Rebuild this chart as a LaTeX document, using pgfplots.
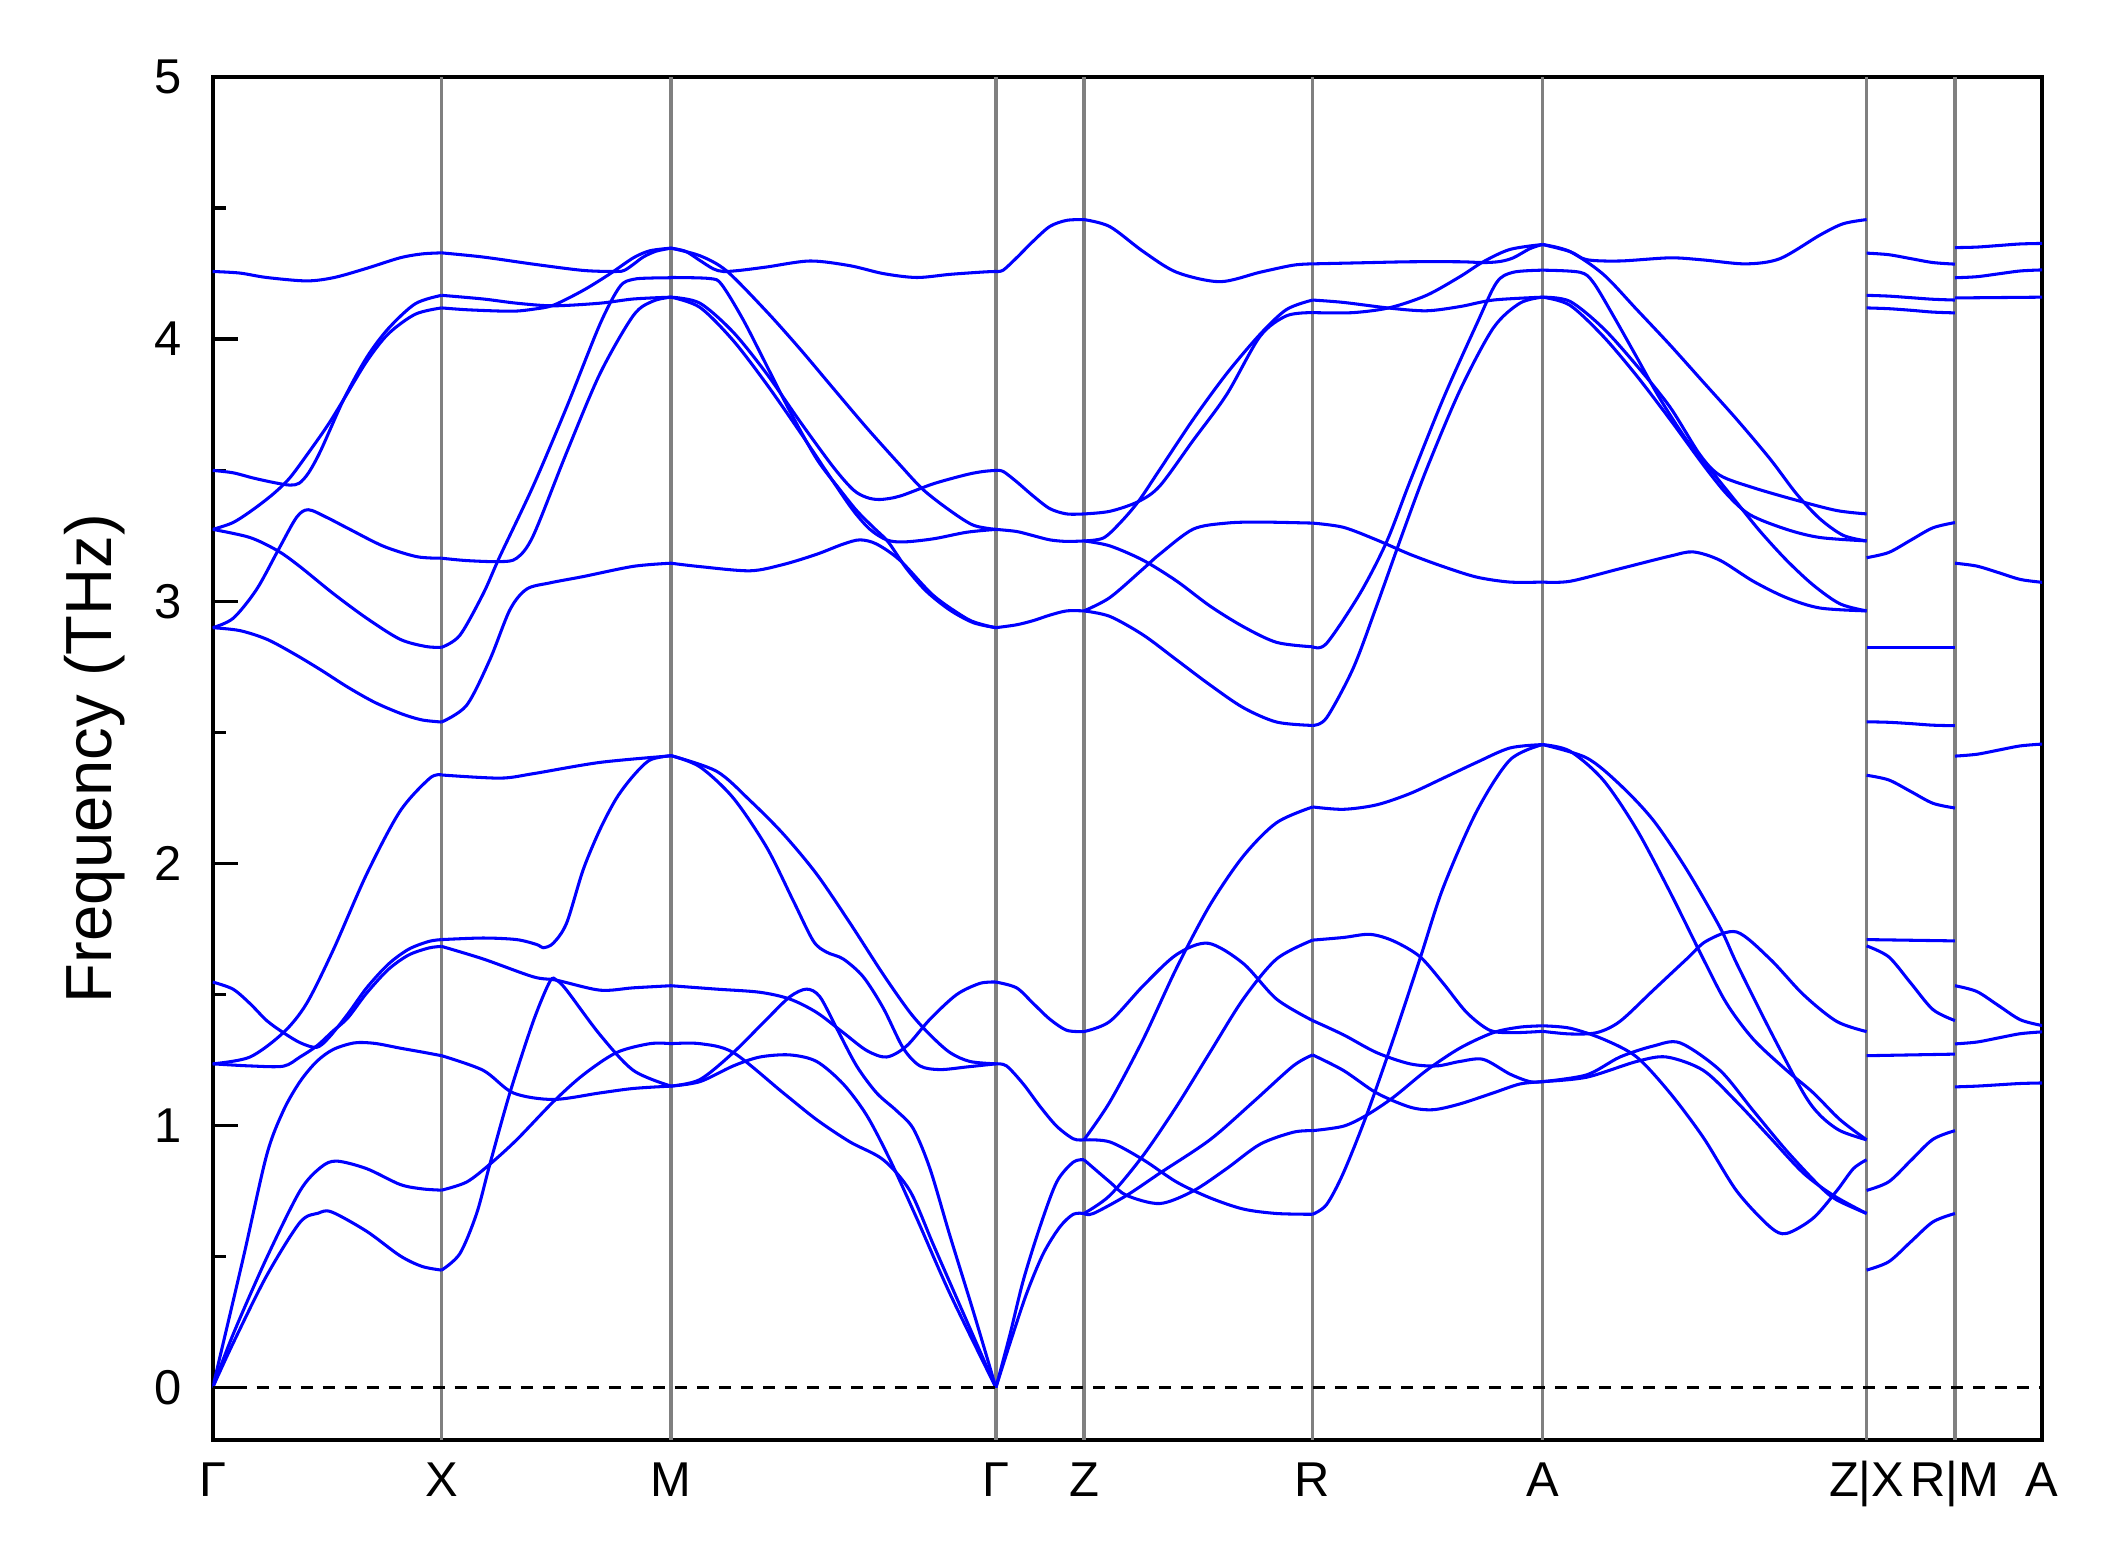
\documentclass[border=0pt]{standalone}
\usepackage{fontspec}
\setmainfont{Liberation Sans}
\usepackage{pgfplots}
\pgfplotsset{compat=1.18}
\pgfplotsset{band/.style={blue, line width=0.75pt, smooth, tension=0.5, no marks},
  sym/.style={gray, line width=0.8pt, no marks}}
\begin{document}
\begin{tikzpicture}
\begin{axis}[
  name=ax,
  width=449pt, height=334.5pt, scale only axis,
  xmin=0, xmax=1354.4, ymin=-0.2, ymax=5,
  xtick={0,169.5,339.2,579.8,645,814.3,984.5,1224.4,1289.8,1354.4},
  xticklabels={Γ,X,M,Γ,Z,R,A,Z|X,R|M,A},
  ytick={0,1,2,3,4,5},
  yticklabels={0,1,2,3,4,5},
  minor ytick={0.5,1.5,2.5,3.5,4.5},
  ytick pos=left,
  tick align=inside,
  major tick length=6.1pt,
  minor tick length=3.2pt,
  tick style={line width=0.8pt, black},
  xtick style={draw=none},
  axis line style={line width=1pt},
  tick label style={font=\fontsize{12}{14}\selectfont},
  xticklabel style={anchor=base, inner sep=0pt, yshift=-13.8pt},
  yticklabel style={anchor=east, inner sep=0pt, xshift=-7.3pt},
]
% high-symmetry lines
\addplot[sym] coordinates {(169.5,-0.2) (169.5,5)};
\addplot[sym] coordinates {(339.2,-0.2) (339.2,5)};
\addplot[sym] coordinates {(579.8,-0.2) (579.8,5)};
\addplot[sym] coordinates {(645,-0.2) (645,5)};
\addplot[sym] coordinates {(814.3,-0.2) (814.3,5)};
\addplot[sym] coordinates {(984.5,-0.2) (984.5,5)};
\addplot[sym] coordinates {(1224.4,-0.2) (1224.4,5)};
\addplot[sym] coordinates {(1289.8,-0.2) (1289.8,5)};
% ===== Gamma - X =====
\addplot[band] coordinates {(0,4.258) (20,4.252) (40,4.235) (69.5,4.222) (90,4.235) (114,4.27) (138.6,4.31) (155,4.325) (169.5,4.329)};
\addplot[band] coordinates {(0,3.499) (15,3.49) (30,3.47) (45,3.453) (57,3.443) (64,3.45) (71,3.49) (80,3.575) (97,3.77) (114,3.93) (130,4.04) (150,4.135) (169.5,4.167)};
\addplot[band] coordinates {(0,3.274) (15,3.30) (30,3.35) (45,3.41) (57,3.47) (70,3.56) (85,3.67) (97,3.77) (114,3.915) (130,4.02) (150,4.095) (169.5,4.119)};
\addplot[band] coordinates {(0,3.274) (27.6,3.243) (48.6,3.191) (64.6,3.132) (89.3,3.029) (114,2.935) (138.6,2.855) (158,2.827) (169.5,2.824)};
\addplot[band] coordinates {(0,2.899) (15.2,2.935) (32.5,3.045) (48.6,3.196) (62.1,3.32) (70.8,3.349) (84.3,3.32) (101.6,3.274) (126.3,3.21) (151,3.17) (169.5,3.164)};
\addplot[band] coordinates {(0,2.899) (20,2.888) (40,2.855) (60,2.800) (80,2.738) (100,2.672) (120,2.614) (140,2.570) (155,2.547) (169.5,2.539)};
\addplot[band] coordinates {(0,1.235) (27.6,1.261) (52.3,1.354) (69.5,1.465) (89.3,1.67) (114,1.959) (138.6,2.198) (160.8,2.325) (169.5,2.337)};
\addplot[band] coordinates {(0,1.547) (15,1.52) (27.6,1.465) (40,1.40) (52,1.355) (65,1.315) (77,1.298) (86,1.335) (100,1.425) (114,1.525) (130,1.615) (145,1.672) (160,1.702) (169.5,1.709)};
\addplot[band] coordinates {(0,1.235) (27.6,1.227) (52.3,1.226) (64.6,1.261) (77,1.303) (89,1.36) (100,1.41) (114,1.505) (130,1.595) (145,1.65) (160,1.677) (169.5,1.683)};
\addplot[band] coordinates {(0,0) (22.6,0.494) (39.9,0.886) (52.3,1.056) (64.6,1.167) (77,1.244) (89.3,1.29) (105,1.315) (120,1.313) (138.6,1.295) (155,1.28) (169.5,1.266)};
\addplot[band] coordinates {(0,0) (15.2,0.204) (39.9,0.494) (64.6,0.75) (80,0.84) (91.7,0.864) (114,0.835) (138.6,0.775) (155,0.758) (169.5,0.753)};
\addplot[band] coordinates {(0,0) (15.2,0.17) (39.9,0.426) (64.6,0.63) (78,0.665) (88,0.67) (114,0.596) (138.6,0.503) (155,0.462) (169.5,0.448)};
% ===== X - M =====
\addplot[band] coordinates {(169.5,4.329) (200.3,4.313) (237.3,4.286) (274.3,4.262) (299,4.258) (305,4.263) (311.4,4.285) (318.7,4.313) (328,4.335) (339.2,4.347)};
\addplot[band] coordinates {(169.5,4.167) (200.3,4.153) (225,4.137) (252.1,4.127) (286.7,4.137) (311.4,4.153) (339.2,4.16)};
\addplot[band] coordinates {(169.5,4.119) (188,4.112) (212.6,4.107) (225,4.107) (237.3,4.114) (252.1,4.129) (274.3,4.186) (294.1,4.249) (311.4,4.31) (323.7,4.337) (339.2,4.347)};
\addplot[band] coordinates {(169.5,2.824) (183,2.87) (200.3,3.029) (212.6,3.171) (237.3,3.44) (262,3.74) (286.7,4.057) (301.4,4.20) (311.4,4.228) (325,4.233) (339.2,4.234)};
\addplot[band] coordinates {(169.5,3.164) (188,3.155) (212.6,3.151) (225,3.164) (237.3,3.25) (262,3.567) (286.7,3.868) (311.4,4.09) (326,4.145) (339.2,4.16)};
\addplot[band] coordinates {(169.5,2.539) (188,2.603) (205.2,2.777) (220,2.967) (232.4,3.046) (249.7,3.07) (274.3,3.094) (311.4,3.133) (339.2,3.145)};
\addplot[band] coordinates {(169.5,2.337) (212.6,2.325) (237.3,2.342) (286.7,2.385) (339.2,2.41)};
\addplot[band] coordinates {(169.5,1.709) (200.3,1.715) (225,1.709) (240,1.69) (244.7,1.678) (252.1,1.695) (262,1.772) (274.3,1.976) (286.7,2.129) (299,2.249) (311.4,2.334) (323.7,2.394) (339.2,2.411)};
\addplot[band] coordinates {(169.5,1.683) (200.3,1.635) (237.3,1.567) (254.6,1.554) (286.7,1.516) (311.4,1.525) (339.2,1.533)};
\addplot[band] coordinates {(169.5,1.266) (200.3,1.21) (222.5,1.124) (252.1,1.099) (286.7,1.124) (311.4,1.141) (339.2,1.15)};
\addplot[band] coordinates {(169.5,0.753) (188,0.784) (205.2,0.852) (225,0.945) (252.1,1.09) (274.3,1.193) (299,1.278) (323.7,1.312) (339.2,1.312)};
\addplot[band] coordinates {(169.5,0.448) (183,0.511) (195.4,0.664) (205.2,0.852) (220,1.124) (237.3,1.397) (249.7,1.55) (254.6,1.554) (262,1.516) (286.7,1.346) (311.4,1.21) (339.2,1.15)};
% ===== M - Gamma =====
\addplot[band] coordinates {(339.2,4.347) (350,4.335) (360.7,4.30) (370.6,4.268) (378,4.258) (390,4.262) (410,4.275) (442.1,4.298) (471.8,4.28) (496.4,4.25) (521.1,4.235) (545.8,4.247) (570.5,4.256) (579.8,4.258)};
\addplot[band] coordinates {(339.2,4.347) (360.7,4.318) (380.5,4.26) (410.1,4.105) (434.7,3.963) (459.4,3.812) (484.1,3.662) (508.8,3.52) (526.1,3.425) (545.8,3.346) (563.1,3.29) (579.8,3.274)};
\addplot[band] coordinates {(339.2,4.235) (368.1,4.231) (376.8,4.208) (392.8,4.073) (410.1,3.899) (427.3,3.725) (447.1,3.543) (464.4,3.425) (476.7,3.346) (489,3.282) (500.1,3.226) (513.7,3.124) (528.5,3.037) (545.8,2.966) (563.1,2.918) (579.8,2.899)};
\addplot[band] coordinates {(339.2,4.16) (360.7,4.137) (385.4,4.026) (410.1,3.868) (434.7,3.686) (459.4,3.512) (474.2,3.425) (484.1,3.396) (494,3.388) (508.8,3.401) (533.5,3.448) (558.1,3.483) (570.5,3.495) (579.8,3.499)};
\addplot[band] coordinates {(339.2,4.16) (360.7,4.121) (385.4,3.994) (410.1,3.828) (434.7,3.646) (459.4,3.456) (474.2,3.346) (486.6,3.274) (498.9,3.234) (511.2,3.226) (533.5,3.238) (558.1,3.263) (579.8,3.274)};
\addplot[band] coordinates {(339.2,3.145) (360.7,3.132) (397.7,3.116) (422.4,3.14) (447.1,3.179) (466.8,3.218) (479.2,3.234) (491.5,3.218) (508.8,3.156) (533.5,3.022) (558.1,2.934) (570.5,2.91) (579.8,2.899)};
\addplot[band] coordinates {(339.2,2.411) (373.1,2.351) (397.7,2.24) (422.4,2.112) (447.1,1.959) (471.8,1.772) (496.4,1.576) (516.2,1.431) (531,1.346) (545.8,1.278) (560.6,1.244) (579.8,1.235)};
\addplot[band] coordinates {(339.2,2.411) (360.7,2.368) (385.4,2.249) (410.1,2.061) (429.8,1.857) (444.6,1.704) (454.5,1.661) (466.8,1.635) (481.6,1.567) (496.4,1.448) (511.2,1.295) (523.6,1.227) (538.4,1.213) (558.1,1.223) (579.8,1.235)};
\addplot[band] coordinates {(339.2,1.533) (373.1,1.52) (405.1,1.508) (427.3,1.482) (447.1,1.431) (466.8,1.354) (484.1,1.286) (498.9,1.261) (513.7,1.303) (531,1.405) (550.7,1.499) (568,1.542) (579.8,1.547)};
\addplot[band] coordinates {(339.2,1.312) (360.7,1.312) (385.4,1.278) (422.4,1.124) (447.1,1.022) (471.8,0.937) (496.4,0.869) (516.2,0.75) (533.5,0.545) (556,0.28) (579.8,0)};
\addplot[band] coordinates {(339.2,1.15) (360.7,1.175) (385.4,1.278) (410.1,1.405) (427.3,1.491) (439.7,1.52) (449.5,1.491) (461.9,1.371) (476.7,1.227) (491.5,1.124) (506.3,1.056) (518.6,0.988) (531,0.835) (545.8,0.579) (563.1,0.29) (579.8,0)};
\addplot[band] coordinates {(339.2,1.15) (360.7,1.167) (385.4,1.227) (405.1,1.261) (427.3,1.269) (447.1,1.244) (466.8,1.158) (484.1,1.039) (501.4,0.869) (521.1,0.647) (545.8,0.358) (579.8,0)};
% ===== Gamma - Z =====
\addplot[band] coordinates {(579.8,4.258) (585.2,4.263) (595.1,4.31) (607.5,4.374) (619.8,4.43) (632.2,4.453) (645,4.456)};
\addplot[band] coordinates {(579.8,3.499) (585.2,3.495) (595.1,3.456) (607.5,3.401) (619.8,3.353) (632.2,3.333) (645,3.333)};
\addplot[band] coordinates {(579.8,3.274) (595.1,3.266) (607.5,3.25) (619.8,3.234) (632.2,3.228) (645,3.23)};
\addplot[band] coordinates {(579.8,2.899) (595.1,2.91) (607.5,2.926) (619.8,2.947) (632.2,2.963) (645,2.963)};
\addplot[band] coordinates {(579.8,1.547) (595.1,1.525) (607.5,1.465) (619.8,1.405) (632.2,1.363) (645,1.358)};
\addplot[band] coordinates {(579.8,1.235) (587.7,1.227) (600.1,1.158) (612.4,1.073) (624.8,0.997) (637.1,0.949) (645,0.945)};
\addplot[band] coordinates {(579.8,0) (590.3,0.204) (600.1,0.409) (612.4,0.613) (624.8,0.784) (637.1,0.86) (645,0.869)};
\addplot[band] coordinates {(579.8,0) (590.3,0.17) (602.5,0.358) (614.9,0.511) (627.2,0.613) (637.1,0.661) (645,0.664)};
% ===== Z - R =====
\addplot[band] coordinates {(645,4.456) (664.2,4.429) (688.9,4.334) (713.6,4.255) (745.6,4.219) (775.3,4.255) (799.9,4.282) (814.3,4.287)};
\addplot[band] coordinates {(645,3.23) (659.3,3.241) (671.6,3.298) (685.2,3.38) (701.2,3.503) (725.9,3.694) (750.6,3.868) (775.3,4.018) (795,4.113) (814.3,4.149)};
\addplot[band] coordinates {(645,3.333) (664.2,3.343) (685.2,3.38) (701.2,3.44) (725.9,3.614) (750.6,3.788) (775.3,4.01) (795,4.089) (814.3,4.101)};
\addplot[band] coordinates {(645,3.23) (664.2,3.211) (688.9,3.156) (713.6,3.077) (738.2,2.982) (762.9,2.903) (787.6,2.843) (814.3,2.826)};
\addplot[band] coordinates {(645,2.963) (664.2,3.014) (688.9,3.124) (701.2,3.18) (725.9,3.275) (750.6,3.298) (775.3,3.302) (814.3,3.298)};
\addplot[band] coordinates {(645,2.963) (664.2,2.942) (688.9,2.871) (713.6,2.776) (738.2,2.681) (762.9,2.594) (787.6,2.539) (814.3,2.526)};
\addplot[band] coordinates {(645,1.358) (664.2,1.397) (688.9,1.533) (713.6,1.652) (737,1.695) (762.9,1.618) (787.6,1.482) (814.3,1.4)};
\addplot[band] coordinates {(645,0.945) (664.2,1.09) (688.9,1.329) (713.6,1.601) (738.2,1.84) (762.9,2.027) (787.6,2.155) (814.3,2.215)};
\addplot[band] coordinates {(645,0.945) (664.2,0.937) (688.9,0.869) (713.6,0.784) (738.2,0.724) (762.9,0.681) (787.6,0.664) (814.3,0.661)};
\addplot[band] coordinates {(645,0.869) (664.2,0.784) (676.6,0.733) (701.2,0.702) (725.9,0.75) (750.6,0.835) (775.3,0.928) (799.9,0.974) (814.3,0.98)};
\addplot[band] coordinates {(645,0.664) (651.9,0.664) (676.6,0.733) (701.2,0.818) (738.2,0.945) (770.4,1.09) (799.9,1.227) (814.3,1.269)};
\addplot[band] coordinates {(645,0.664) (664.2,0.733) (688.9,0.886) (713.6,1.073) (738.2,1.278) (762.9,1.482) (787.6,1.635) (814.3,1.707)};
% ===== R - A =====
\addplot[band] coordinates {(814.3,4.287) (849.3,4.291) (886.3,4.295) (923.3,4.295) (940.6,4.292) (952.9,4.296) (962.8,4.31) (975.1,4.345) (984.5,4.361)};
\addplot[band] coordinates {(814.3,4.149) (837,4.14) (871.5,4.118) (898.6,4.108) (923.3,4.124) (948,4.149) (984.5,4.16)};
\addplot[band] coordinates {(814.3,4.101) (844.3,4.101) (871.5,4.12) (898.6,4.167) (923.3,4.238) (940.6,4.295) (960.3,4.342) (984.5,4.361)};
\addplot[band] coordinates {(814.3,3.298) (837,3.282) (861.6,3.234) (886.3,3.179) (911,3.132) (935.7,3.092) (960.3,3.073) (984.5,3.073)};
\addplot[band] coordinates {(814.3,2.826) (824.6,2.839) (849.3,3.029) (869,3.226) (886.3,3.456) (911,3.773) (935.7,4.057) (950.5,4.216) (962.8,4.255) (984.5,4.263)};
\addplot[band] coordinates {(814.3,2.526) (824.6,2.555) (844.3,2.744) (861.6,2.981) (881.4,3.266) (898.6,3.503) (923.3,3.804) (948,4.042) (967.7,4.137) (984.5,4.16)};
\addplot[band] coordinates {(814.3,2.215) (837,2.206) (861.6,2.223) (886.3,2.266) (911,2.325) (935.7,2.385) (960.3,2.44) (984.5,2.453)};
\addplot[band] coordinates {(814.3,0.661) (824.6,0.698) (837,0.818) (854.2,1.039) (874,1.329) (893.7,1.635) (911,1.908) (935.7,2.198) (960.3,2.394) (984.5,2.453)};
\addplot[band] coordinates {(814.3,1.707) (837,1.717) (856.7,1.729) (874,1.704) (893.7,1.644) (911,1.542) (928.3,1.431) (945.5,1.363) (962.8,1.354) (984.5,1.359)};
\addplot[band] coordinates {(814.3,1.4) (837,1.346) (861.6,1.278) (886.3,1.235) (906.1,1.227) (923.3,1.244) (940.6,1.252) (960.3,1.196) (975.1,1.167) (984.5,1.167)};
\addplot[band] coordinates {(814.3,1.269) (837,1.21) (861.6,1.124) (886.3,1.07) (903.6,1.06) (923.3,1.082) (948,1.124) (967.7,1.158) (984.5,1.167)};
\addplot[band] coordinates {(814.3,0.98) (837,0.997) (854.2,1.039) (874,1.107) (898.6,1.21) (923.3,1.295) (948,1.354) (967.7,1.375) (984.5,1.38)};
% ===== A - Z =====
\addplot[band] coordinates {(984.5,4.361) (1004.8,4.334) (1017.2,4.303) (1041.8,4.298) (1078.8,4.31) (1103.5,4.302) (1135,4.287) (1160.3,4.307) (1189.9,4.397) (1207,4.44) (1224.4,4.456)};
\addplot[band] coordinates {(984.5,4.361) (1004.8,4.334) (1029.5,4.247) (1054.2,4.113) (1078.8,3.978) (1103.5,3.836) (1128.2,3.694) (1152.9,3.543) (1172.6,3.409) (1189.9,3.314) (1207.2,3.251) (1224.4,3.23)};
\addplot[band] coordinates {(984.5,4.263) (1012.2,4.255) (1022.1,4.216) (1036.9,4.089) (1054.2,3.931) (1071.4,3.773) (1091.2,3.615) (1110.9,3.488) (1128.2,3.377) (1145.5,3.267) (1165.2,3.156) (1185,3.061) (1204.7,2.99) (1224.4,2.963)};
\addplot[band] coordinates {(984.5,4.16) (1004.8,4.144) (1029.5,4.041) (1054.2,3.899) (1078.8,3.741) (1101,3.559) (1115.9,3.48) (1140.5,3.433) (1172.6,3.385) (1202.2,3.346) (1224.4,3.333)};
\addplot[band] coordinates {(984.5,4.16) (1004.8,4.129) (1029.5,4.01) (1054.2,3.86) (1078.8,3.694) (1103.5,3.52) (1120.8,3.409) (1138,3.33) (1165.2,3.274) (1189.9,3.243) (1224.4,3.23)};
\addplot[band] coordinates {(984.5,3.073) (1004.8,3.076) (1041.8,3.124) (1078.8,3.172) (1096.1,3.188) (1115.9,3.156) (1140.5,3.076) (1165.2,3.013) (1189.9,2.974) (1224.4,2.963)};
\addplot[band] coordinates {(984.5,2.453) (1017.2,2.402) (1041.8,2.3) (1066.5,2.164) (1091.2,1.976) (1115.9,1.755) (1128.2,1.618) (1152.9,1.363) (1177.6,1.124) (1189.9,1.039) (1204.7,0.98) (1224.4,0.945)};
\addplot[band] coordinates {(984.5,2.453) (1004.8,2.428) (1029.5,2.317) (1054.2,2.129) (1078.8,1.891) (1103.5,1.635) (1120.8,1.465) (1140.5,1.329) (1165.2,1.21) (1185,1.124) (1204.7,1.022) (1224.4,0.945)};
\addplot[band] coordinates {(984.5,1.38) (1004.8,1.371) (1029.5,1.329) (1054.2,1.261) (1078.8,1.124) (1103.5,0.954) (1128.2,0.75) (1152.9,0.613) (1165.2,0.588) (1185,0.647) (1202.2,0.75) (1214.6,0.835) (1224.4,0.869)};
\addplot[band] coordinates {(984.5,1.359) (1004.8,1.349) (1024.6,1.354) (1041.8,1.397) (1066.5,1.516) (1091.2,1.635) (1106,1.704) (1128.2,1.738) (1152.9,1.635) (1177.6,1.499) (1202.2,1.397) (1224.4,1.358)};
\addplot[band] coordinates {(984.5,1.167) (1017.2,1.193) (1041.8,1.261) (1066.5,1.303) (1086.3,1.315) (1115.9,1.21) (1140.5,1.056) (1165.2,0.903) (1189.9,0.767) (1202.2,0.716) (1224.4,0.664)};
\addplot[band] coordinates {(984.5,1.167) (1017.2,1.184) (1054.2,1.244) (1076.4,1.261) (1103.5,1.21) (1128.2,1.09) (1152.9,0.954) (1177.6,0.818) (1199.8,0.733) (1224.4,0.664)};
% ===== X - R =====
\addplot[band] coordinates {(1224.4,4.328) (1240.8,4.322) (1257.1,4.307) (1273.5,4.292) (1289.8,4.286)};
\addplot[band] coordinates {(1224.4,4.167) (1240.8,4.164) (1257.1,4.158) (1273.5,4.152) (1289.8,4.149)};
\addplot[band] coordinates {(1224.4,4.119) (1240.8,4.116) (1257.1,4.110) (1273.5,4.103) (1289.8,4.100)};
\addplot[band] coordinates {(1224.4,3.166) (1240.8,3.186) (1257.1,3.233) (1273.5,3.280) (1289.8,3.300)};
\addplot[band] coordinates {(1224.4,2.823) (1289.8,2.823)};
\addplot[band] coordinates {(1224.4,2.540) (1240.8,2.538) (1257.1,2.533) (1273.5,2.527) (1289.8,2.525)};
\addplot[band] coordinates {(1224.4,2.336) (1240.8,2.318) (1257.1,2.274) (1273.5,2.229) (1289.8,2.211)};
\addplot[band] coordinates {(1224.4,1.709) (1289.8,1.704)};
\addplot[band] coordinates {(1224.4,1.685) (1240.8,1.643) (1257.1,1.543) (1273.5,1.442) (1289.8,1.400)};
\addplot[band] coordinates {(1224.4,1.266) (1289.8,1.272)};
\addplot[band] coordinates {(1224.4,0.752) (1240.8,0.785) (1257.1,0.866) (1273.5,0.947) (1289.8,0.980)};
\addplot[band] coordinates {(1224.4,0.448) (1240.8,0.480) (1257.1,0.556) (1273.5,0.632) (1289.8,0.664)};
% ===== M - A =====
\addplot[band] coordinates {(1289.8,4.349) (1305.95,4.351) (1322.1,4.357) (1338.25,4.363) (1354.4,4.365)};
\addplot[band] coordinates {(1289.8,4.234) (1305.95,4.238) (1322.1,4.249) (1338.25,4.260) (1354.4,4.264)};
\addplot[band] coordinates {(1289.8,4.157) (1354.4,4.16)};
\addplot[band] coordinates {(1289.8,3.145) (1305.95,3.134) (1322.1,3.109) (1338.25,3.083) (1354.4,3.072)};
\addplot[band] coordinates {(1289.8,2.409) (1305.95,2.416) (1322.1,2.432) (1338.25,2.448) (1354.4,2.455)};
\addplot[band] coordinates {(1289.8,1.533) (1305.95,1.511) (1322.1,1.457) (1338.25,1.403) (1354.4,1.381)};
\addplot[band] coordinates {(1289.8,1.311) (1305.95,1.318) (1322.1,1.334) (1338.25,1.350) (1354.4,1.357)};
\addplot[band] coordinates {(1289.8,1.147) (1305.95,1.150) (1322.1,1.155) (1338.25,1.160) (1354.4,1.162)};
% zero line
\addplot[black, line width=0.8pt, dash pattern=on 3pt off 2.4pt] coordinates {(0,0) (1354.4,0)};
\end{axis}
\node[rotate=90, anchor=north, inner sep=0pt, font=\fontsize{16}{19}\selectfont] at ([xshift=-36.7pt]ax.west) {Frequency (THz)};
\path ([shift={(-52.2pt,-31.1pt)}]ax.south west) rectangle ([shift={(18.6pt,18.9pt)}]ax.north east);
\end{tikzpicture}
\end{document}
